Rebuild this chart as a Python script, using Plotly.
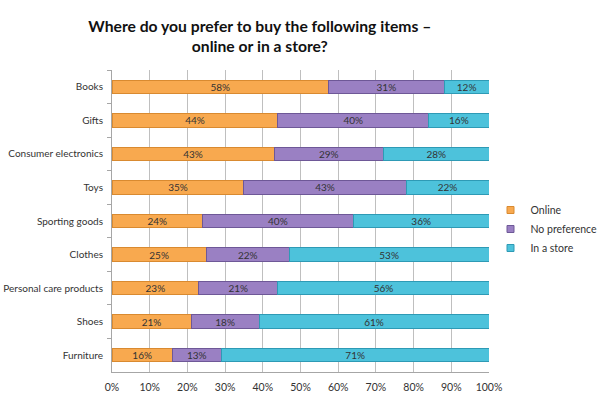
import plotly.graph_objects as go

categories = ["Books", "Gifts", "Consumer electronics", "Toys", "Sporting goods",
              "Clothes", "Personal care products", "Shoes", "Furniture"]
online = [58, 44, 43, 35, 24, 25, 23, 21, 16]
no_pref = [31, 40, 29, 43, 40, 22, 21, 18, 13]
in_store = [12, 16, 28, 22, 36, 53, 56, 61, 71]
series_names = ["Online", "No preference", "In a store"]
x_ticks = [0, 10, 20, 30, 40, 50, 60, 70, 80, 90, 100]

colors = ["#F8A94F", "#9A80C3", "#4DC2DB"]
borders = ["#D98A30", "#6E5897", "#2E9AB5"]

fig = go.Figure()
for name, vals, c, b in zip(series_names, [online, no_pref, in_store], colors, borders):
    fig.add_trace(go.Bar(
        y=categories, x=vals, name=name, orientation="h",
        marker=dict(color=c, line=dict(color=b, width=1)),
        text=[f"{v}%" for v in vals], textposition="inside",
        insidetextanchor="middle", textangle=0, constraintext="none",
        textfont=dict(color="#333333", size=10, family="Lato"),
        width=0.4, showlegend=False,
    ))
# legend entries with small square markers
for name, c, b in zip(series_names, colors, borders):
    fig.add_trace(go.Scatter(
        x=[None], y=[None], mode="markers", name=name,
        marker=dict(symbol="square", size=7, color=c, line=dict(color=b, width=1)),
    ))

fig.update_layout(
    barmode="stack", barnorm="percent",
    width=600, height=398,
    margin=dict(l=112, r=111, t=70, b=26, autoexpand=False),
    paper_bgcolor="white", plot_bgcolor="white",
    font=dict(family="Lato", color="#333333", size=11),
    title=dict(text="<b>Where do you prefer to buy the following items –<br>online or in a store?</b>",
               x=0.433, xanchor="center", xref="container",
               y=0.92, yanchor="top", yref="container",
               font=dict(size=15.7, color="#111111", family="Lato")),
    legend=dict(x=1.004, xanchor="left", y=0.4735, yanchor="middle",
                font=dict(size=10.5, color="#333333"), itemwidth=30,
                traceorder="normal"),
    showlegend=True,
)
fig.update_xaxes(range=[0, 100], tickvals=x_ticks, ticktext=[f"{t}%" for t in x_ticks],
                 showgrid=True, gridcolor="#BFBFBF", gridwidth=1,
                 showline=True, linecolor="#A6A6A6", ticks="", zeroline=False,
                 ticklabelstandoff=5,
                 tickfont=dict(size=10.5, color="#333333"), automargin=False)
fig.update_yaxes(categoryorder="array", categoryarray=categories, autorange="reversed",
                 showline=True, linecolor="#A6A6A6", ticks="outside", tickson="boundaries",
                 ticklen=4, tickcolor="#A6A6A6", showgrid=False, automargin=False,
                 ticklabelstandoff=6,
                 tickfont=dict(size=10, color="#333333"))

fig.write_html("out.html", config={"displayModeBar": False},
               post_script="document.body.style.margin='0';")
